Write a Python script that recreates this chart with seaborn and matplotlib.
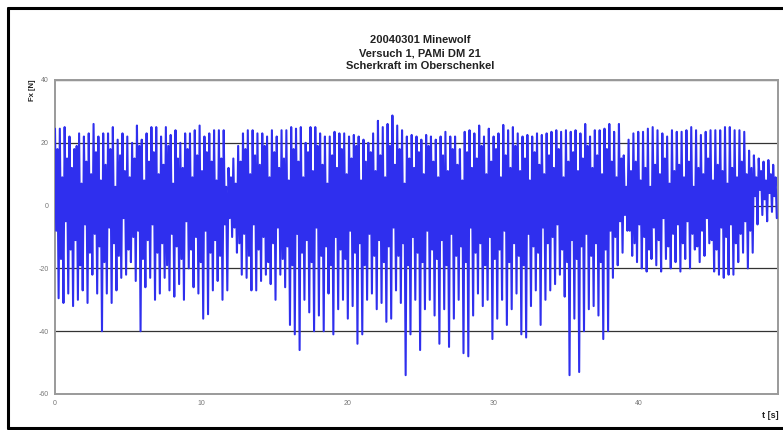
import numpy as np
import pandas as pd
import matplotlib
matplotlib.use("Agg")
import matplotlib.pyplot as plt
from matplotlib.lines import Line2D
import seaborn as sns

# ---- data (one value per oscillation cycle) ----
title_lines = ["20040301 Minewolf", "Versuch 1, PAMi DM 21", "Scherkraft im Oberschenkel"]
x_ticks = [0, 10, 20, 30, 40]
y_ticks = [-60, -40, -20, 0, 20, 40]
cycle_dt = 0.33  # seconds per cycle

peaks = [
    24.5, 24.5, 25, 22, 18, 23, 22, 23, 26, 22,
    23, 23, 25, 21, 23, 22, 20, 25.5, 21, 23,
    25, 25, 22, 25, 22.5,
    24, 20, 23, 23, 24, 25.5, 22, 23, 24, 24,
    24, 12, 15, 19, 23, 24, 24, 23, 23, 22,
    24, 22, 24, 24, 25, 24.5,
    25, 20, 25, 25, 23, 22, 22, 23.5, 23, 23,
    22, 22.5, 22, 21, 20, 23, 27, 25, 26, 28.7,
    25.5, 24, 22, 22.5, 22, 21,
    22.5, 22, 21, 22, 23.5, 22, 22, 18, 23.5, 24,
    23, 25.5, 22, 24.5, 22, 23, 25.7, 24, 25, 23,
    22, 22.5, 22, 23, 22.5,
    23, 23.5, 24, 23.5, 24, 23.5, 24, 23, 26, 22,
    24, 24, 24.5, 26, 23.5, 26, 16, 21, 23, 23.5,
    23.5, 24.5, 25, 24, 23, 22,
    24, 23.5, 23.5, 24, 25, 24, 22.5, 23.5, 24, 24,
    24, 25, 25, 24, 24, 23.5, 17.5, 16, 15, 14,
    14.5, 13,
]

troughs = [
    -29.5, -31, -28, -32, -30, -27, -31, -22, -28, -40,
    -28, -31, -27, -23, -22, -18, -24, -40, -26, -23,
    -30, -28, -23, -27, -29, -25,
    -30, -20, -26, -28, -36, -34.6, -27, -24, -30, -27,
    -10, -15, -22, -23, -27, -27, -24, -22, -25, -30,
    -22, -26, -38, -41, -46,
    -30, -34, -40, -35, -40, -28, -41, -33, -30, -36,
    -32, -44, -41, -30, -28, -33, -31, -37, -36, -27,
    -31, -54, -41, -30, -46, -33,
    -30, -35, -44, -33, -45, -36, -30, -47, -48, -35,
    -28, -32, -30, -42.5, -36, -30, -38, -33, -28, -41,
    -42, -32, -27, -38, -30,
    -27, -25, -22, -29, -54, -36, -53, -40, -33, -32,
    -35, -42.5, -40, -23, -19, -15, -8, -16, -18, -20,
    -21, -17, -19, -21, -17, -20,
    -18, -21, -17, -20, -14, -18, -16, -12, -21, -22,
    -23, -22, -22, -18, -15, -20, -15, -6, -3, -5,
    -2, -4,
]

# upper / lower reach of the inner oscillation in each cycle
band_hi = [
    18, 9, 15, 12, 19, 7, 14, 10, 17, 8,
    13, 18, 6, 16, 11, 9, 15, 19, 8, 14,
    17, 10, 13, 19, 7, 15, 12, 18, 9, 16,
    11, 17, 14, 8, 15, 6, 9, 7, 14, 18,
    10, 16, 13, 19, 9, 17, 12, 15, 8, 18,
    14, 9, 17, 11, 19, 13, 7, 16, 12, 18,
    10, 15, 19, 8, 14, 17, 11, 16, 9, 19,
    13, 18, 7, 15, 12, 17, 10, 19, 14, 9,
    16, 11, 18, 13, 8, 17, 12, 15, 19, 10,
    14, 18, 9, 16, 12, 19, 11, 15, 8, 17,
    13, 10, 16, 12, 18, 9, 14, 17, 11, 15,
    19, 12, 16, 10, 18, 14, 9, 15, 6, 11,
    14, 8, 12, 6, 13, 10, 15, 7, 11, 13,
    9, 14, 6, 12, 10, 15, 8, 13, 11, 7,
    12, 9, 14, 10, 12, 9, 11, 8, 10, 9,
]

band_lo = [
    -8, -17, -5, -14, -11, -19, -6, -15, -9, -13,
    -18, -7, -12, -16, -4, -14, -10, -8, -17, -11,
    -6, -15, -12, -19, -9, -13, -17, -5, -14, -10,
    -18, -8, -15, -11, -16, -6, -4, -7, -12, -9,
    -16, -6, -14, -10, -18, -12, -7, -17, -13, -19,
    -9, -15, -11, -18, -7, -16, -13, -19, -10, -14,
    -17, -8, -15, -12, -19, -9, -16, -11, -18, -13,
    -7, -16, -12, -19, -10, -15, -18, -8, -14, -17,
    -11, -19, -9, -16, -13, -18, -7, -15, -12, -19,
    -10, -17, -14, -8, -18, -12, -16, -19, -9, -13,
    -15, -7, -12, -10, -6, -14, -18, -11, -17, -13,
    -9, -16, -12, -18, -14, -8, -10, -5, -3, -8,
    -12, -6, -10, -14, -7, -11, -4, -13, -9, -6,
    -12, -5, -9, -13, -8, -4, -11, -14, -7, -10,
    -6, -12, -9, -5, -8, 3, 5, 2, 4, 3,
]

# ---- build the sample sequence (peak, low, high, trough per cycle) ----
n = min(len(peaks), len(troughs), len(band_hi), len(band_lo))
cyc = np.column_stack([peaks[:n], band_lo[:n], band_hi[:n], troughs[:n]])
fx = cyc.ravel()
t = np.arange(fx.size) * (cycle_dt / cyc.shape[1])
df = pd.DataFrame({"t": t, "Fx": fx})

# ---- styling ----
sns.set_style("white")
plt.rcParams["font.family"] = ["Liberation Sans Narrow", "Liberation Sans", "DejaVu Sans"]

W, H = 783, 430
fig = plt.figure(figsize=(W / 100, H / 100), dpi=100)
ax = fig.add_axes([55 / W, 1 - 394 / H, (778 - 55) / W, (394 - 80) / H])

sns.lineplot(data=df, x="t", y="Fx", ax=ax, estimator=None, sort=False,
             color="#2f2fee", linewidth=1.5, zorder=3)

ax.set_xlim(0, 49.5)
ax.set_ylim(-60, 40)
ax.set_xticks(x_ticks)
ax.set_yticks(y_ticks)
ax.set_xticklabels([str(v) for v in x_ticks])
ax.set_yticklabels([str(v) for v in y_ticks])
ax.tick_params(axis="both", labelsize=5, colors="#777777", length=2.5, width=0.8,
               direction="out", pad=2)
ax.yaxis.grid(True, color="#333333", linewidth=0.9, zorder=1)
ax.xaxis.grid(False)
ax.set_axisbelow(True)
for side, sp in ax.spines.items():
    sp.set_visible(True)
    sp.set_color("#9a9a9a")
    sp.set_linewidth(1.4)
ax.set_xlabel("")
ax.set_ylabel("")

# axis labels
fig.text(33 / W, 1 - 90 / H, "Fx [N]", rotation=90, ha="center", va="center",
         fontsize=5.5, fontweight="bold", color="#222222")
fig.text(770 / W, 1 - 415 / H, "t [s]", ha="center", va="center",
         fontsize=6.5, fontweight="bold", color="#222222")

# title lines
for i, line in enumerate(title_lines):
    fig.text(420 / W, 1 - (40 + 13 * i) / H, line, ha="center", va="center",
             fontsize=8, fontweight="bold", color="#222222")

# outer frame
lw = 2.2
fig.add_artist(Line2D([8 / W, 8 / W], [1 - 8 / H, 1 - 428 / H], color="black", lw=lw))
fig.add_artist(Line2D([8 / W, 1.0], [1 - 8 / H, 1 - 8 / H], color="black", lw=lw))
fig.add_artist(Line2D([8 / W, 1.0], [1 - 428 / H, 1 - 428 / H], color="black", lw=lw))

fig.savefig("out.png", dpi=100)
